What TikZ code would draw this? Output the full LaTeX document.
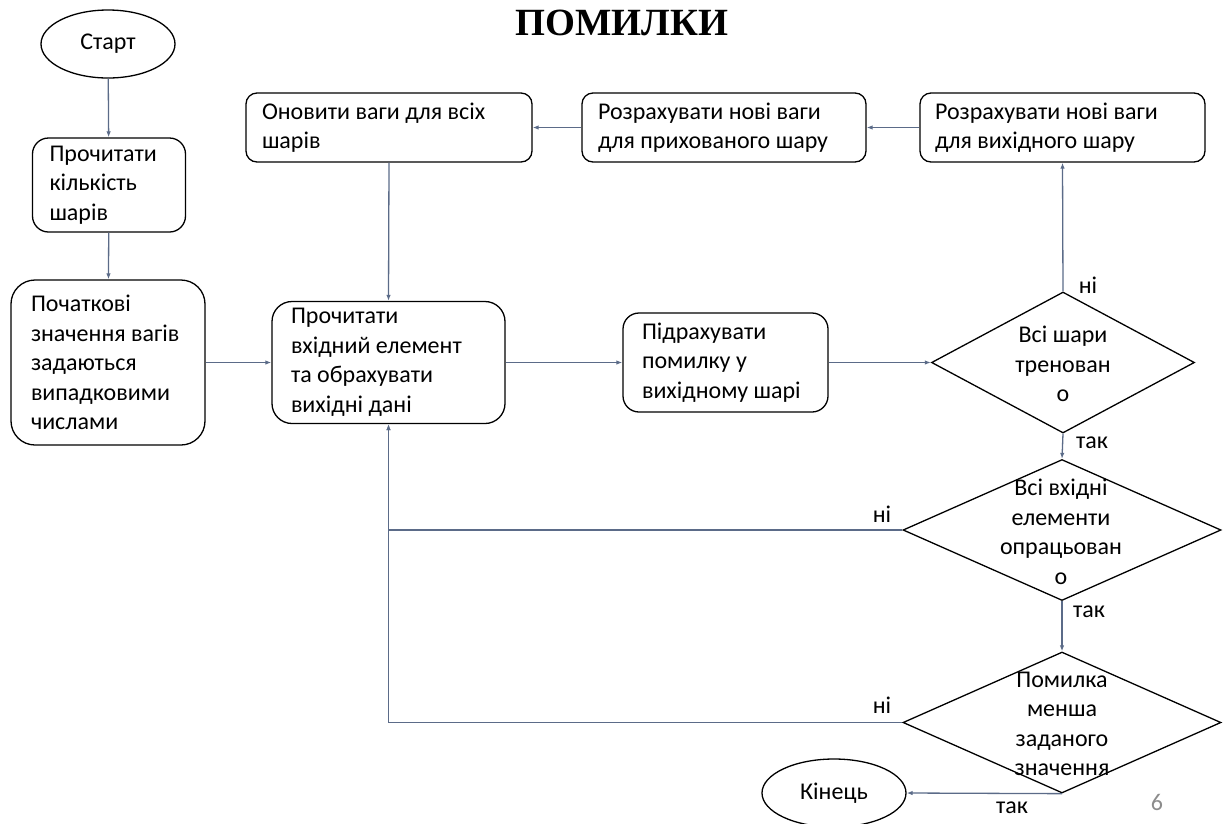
\documentclass[tikz,border=0pt]{standalone}
\usepackage{fontspec}
\setmainfont{Carlito}
\newfontfamily\titlefont{Liberation Serif}
\usetikzlibrary{shapes.geometric,arrows.meta}
\definecolor{flowc}{HTML}{5B6B88}
\definecolor{pagenum}{HTML}{8C8C8C}
\tikzset{
  every node/.style={font=\fontsize{24}{29.5}\selectfont},
  box/.style={draw=black, line width=1.3pt, align=flush left, inner ysep=0pt},
  oval/.style={draw=black, line width=1.3pt, ellipse, inner sep=0pt},
  decision/.style={draw=black, line width=1.3pt, diamond, inner sep=0pt},
  dtext/.style={align=center, inner sep=0pt},
  tag/.style={inner sep=0pt},
  flow/.style={draw=flowc, line width=1.3pt, -{Latex[length=6pt,width=4.5pt]}},
}
\begin{document}
\begin{tikzpicture}[x=1pt,y=-1pt]
\useasboundingbox (0,0) rectangle (1227,823);

% title
\node (title) at (622,22.5) {\titlefont\bfseries\fontsize{38.5}{40}\selectfont ПОМИЛКИ};

% terminators
\node[oval, minimum width=134, minimum height=68] (start) at (108,44) {Старт};
\node[oval, minimum width=144, minimum height=68] (fin) at (834,793) {Кінець};

% process boxes
\node[box, rounded corners=16, minimum height=94, inner xsep=17, text width=119] (b1) at (109,185)
  {Прочитати\\кількість\\шарів};
\node[box, rounded corners=24, minimum height=165, inner xsep=20, text width=154] (b2) at (108,362.5)
  {Початкові\\значення~вагів\\задаються\\випадковими\\числами};
\node[box, rounded corners=20, minimum height=122, inner xsep=19, text width=195] (b3) at (388.5,362.5)
  {Прочитати\\вхідний~елемент\\та~обрахувати\\вихідні~дані};
\node[box, rounded corners=16, minimum height=99, inner xsep=19, text width=167] (b4) at (725.5,362.5)
  {Підрахувати\\помилку~у\\вихідному~шарі};
\node[box, rounded corners=11, minimum height=69, inner xsep=16, text width=254] (b5) at (389,127.5)
  {Оновити~ваги~для~всіх\\шарів};
\node[box, rounded corners=11, minimum height=69, inner xsep=16, text width=252] (b6) at (724,127.5)
  {Розрахувати~нові~ваги\\для~прихованого~шару};
\node[box, rounded corners=11, minimum height=69, inner xsep=15, text width=255] (b7) at (1062.5,127.5)
  {Розрахувати~нові~ваги\\для~вихідного~шару};

% decisions
\node[decision, minimum width=263, minimum height=141] (d1) at (1063,362.5) {};
\node[decision, minimum width=318, minimum height=141] (d2) at (1062,530) {};
\node[decision, minimum width=318, minimum height=141] (d3) at (1062,722.5) {};
\node[dtext] (t1) at (1063,364) {Всі шари\\тренован\\о};
\node[dtext] (t2) at (1061,532) {Всі вхідні\\елементи\\опрацьован\\о};
\node[dtext] (t3) at (1062,724) {Помилка\\менша\\заданого\\значення};

% connectors
\draw[flow] (start) -- (b1);
\draw[flow] (b1) -- (b2);
\draw[flow] (b2.east) -- (b2.east -| b3.west);
\draw[flow] (b3.east) -- (b3.east -| b4.west);
\draw[flow] (b4.east) -- (d1.west);
\draw[flow] (d1.north) -- (b7.south);
\draw[flow] (b7.west) -- (b6.east);
\draw[flow] (b6.west) -- (b5.east);
\draw[flow] (b5.south) -- (b3.north);
\draw[flow] (d1.south) -- (d2.north);
\draw[flow] (d2.south) -- (d3.north);
\draw[flow] (d2.west) -| (b3.south);
\draw[flow] (d3.west) -| (b3.south);
\draw[flow] (d3.south) -- (fin.east);

% branch labels
\node[tag] (n1) at (1088,285) {ні};
\node[tag] (y1) at (1092,443) {так};
\node[tag] (n2) at (882,514) {ні};
\node[tag] (y2) at (1089,612) {так};
\node[tag] (n3) at (882,705) {ні};
\node[tag] (y3) at (1012,808) {так};

% page number
\node[tag, text=pagenum] (pg) at (1157,802) {6};
\end{tikzpicture}
\end{document}
